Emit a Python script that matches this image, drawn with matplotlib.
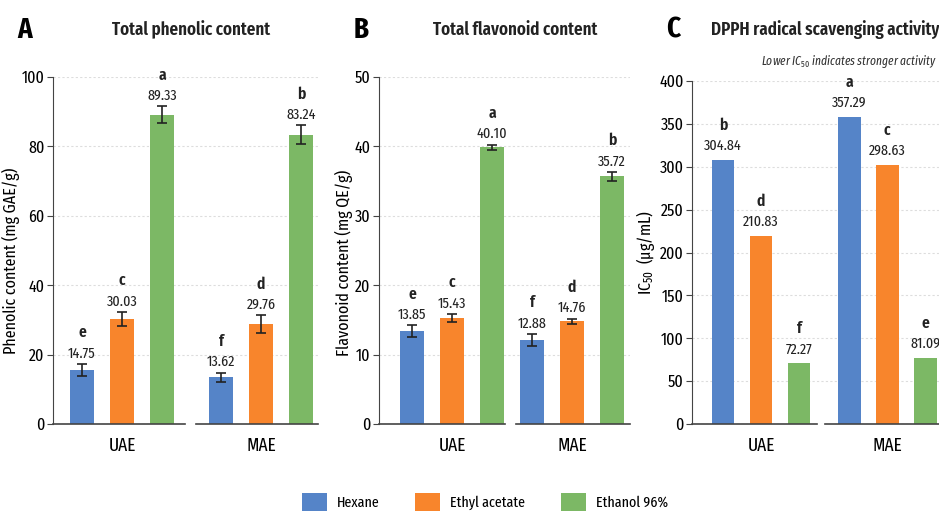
import matplotlib
matplotlib.use('Agg')

import numpy as np
import matplotlib.pyplot as plt
from matplotlib.patches import Patch
from matplotlib import font_manager

# data
groups = ['UAE', 'MAE']
solvents = ['Hexane', 'Ethyl acetate', 'Ethanol 96%']
colors = ['#5584C8', '#F8852C', '#7CB865']

# panel A - total phenolic content (UAE hexane, EA, EtOH, MAE hexane, EA, EtOH)
tpc_height = [15.6, 30.3, 89.1, 13.5, 28.8, 83.4]
tpc_err = [1.7, 2.0, 2.4, 1.3, 2.5, 2.7]
tpc_text = ['14.75', '30.03', '89.33', '13.62', '29.76', '83.24']
tpc_letter = ['e', 'c', 'a', 'f', 'd', 'b']

# panel B - total flavonoid content
tfc_height = [13.4, 15.3, 39.9, 12.1, 14.8, 35.7]
tfc_err = [0.8, 0.55, 0.35, 0.9, 0.4, 0.65]
tfc_text = ['13.85', '15.43', '40.10', '12.88', '14.76', '35.72']
tfc_letter = ['e', 'c', 'a', 'f', 'd', 'b']

# panel C - DPPH IC50
ic50_height = [307.9, 219.2, 70.8, 358.0, 302.0, 77.3]
ic50_text = ['304.84', '210.83', '72.27', '357.29', '298.63', '81.09']
ic50_letter = ['b', 'd', 'f', 'a', 'c', 'e']

# narrow font if there is one, otherwise Lato
names = set(f.name for f in font_manager.fontManager.ttflist)
cond = [n for n in ['Fira Sans Extra Condensed', 'Fira Sans Condensed', 'Roboto Condensed'] if n in names]
plt.rcParams['font.family'] = cond[:1] + ['Lato', 'DejaVu Sans']
plt.rcParams['mathtext.fontset'] = 'custom'
plt.rcParams['mathtext.rm'] = plt.rcParams['font.family'][0]
plt.rcParams['mathtext.it'] = plt.rcParams['font.family'][0] + ':italic'

W, H = 939, 514
fig = plt.figure(figsize=(W / 100, H / 100), dpi=100)


def px_axes(left, right, top, bottom):
    return fig.add_axes([left / W, 1 - bottom / H, (right - left) / W, (bottom - top) / H])


def draw_panel(ax, heights, err, texts, letters, ymax, ystep, sep, xlim, gap, ylabel, label_y, val_off, let_off):
    offs = np.array([-1, 0, 1])
    xs = np.concatenate([offs, offs + sep])
    for i, x in enumerate(xs):
        ax.bar(x, heights[i], width=0.6, color=colors[i % 3], zorder=3)
    if err is not None:
        ax.errorbar(xs, heights, yerr=err, fmt='none', ecolor='#222222',
                    elinewidth=1.2, capsize=3.5, capthick=1.2, zorder=4)
        tops = np.array(heights) + np.array(err)
    else:
        tops = np.array(heights)
    for i, x in enumerate(xs):
        ax.annotate(texts[i], xy=(x, tops[i]), xytext=(0, val_off), textcoords='offset points',
                    ha='center', va='center', fontsize=11, color='#222222')
        ax.annotate(letters[i], xy=(x, tops[i]), xytext=(0, val_off + let_off), textcoords='offset points',
                    ha='center', va='center', fontsize=12, fontweight='semibold', color='#222222')
    ax.set_ylim(0, ymax)
    ax.set_xlim(*xlim)
    ax.set_yticks(np.arange(0, ymax + 1, ystep))
    ax.yaxis.grid(True, linestyle=(0, (2, 2)), color='#dddddd', linewidth=0.8, zorder=0)
    ax.set_xticks([0, sep])
    ax.set_xticklabels(groups, fontsize=13.5)
    ax.tick_params(axis='x', length=0, pad=9)
    ax.tick_params(axis='y', labelsize=12.5, length=4, color='#444444', pad=2)
    for s in ['top', 'right', 'bottom']:
        ax.spines[s].set_visible(False)
    ax.spines['left'].set_color('#444444')
    # x axis line broken between the two groups
    ax.axhline(0, 0, gap[0], color='#444444', linewidth=1.2, clip_on=False, zorder=5)
    ax.axhline(0, gap[1], 1, color='#444444', linewidth=1.2, clip_on=False, zorder=5)
    ax.set_ylabel(ylabel, fontsize=12.5, labelpad=1.5, y=label_y)


axA = px_axes(53, 318, 77, 424)
draw_panel(axA, tpc_height, tpc_err, tpc_text, tpc_letter, 100, 20, 3.475, (-1.725, 4.9),
           (0.5, 0.54), 'Phenolic content (mg GAE/g)', 0.47, 7.5, 15)

axB = px_axes(379, 630, 77, 424)
draw_panel(axB, tfc_height, tfc_err, tfc_text, tfc_letter, 50, 10, 3.0, (-1.825, 4.45),
           (0.5, 0.545), 'Flavonoid content (mg QE/g)', 0.465, 7.5, 15)

axC = px_axes(692, 939, 81, 424)
draw_panel(axC, ic50_height, None, ic50_text, ic50_letter, 400, 50, 3.32, (-1.816, 4.68),
           (0.506, 0.538), 'IC$_{50}$  (µg/mL)', 0.5, 10, 15)

# panel letters and titles
for x, letter in [(25, 'A'), (361, 'B'), (673, 'C')]:
    fig.text(x / W, 1 - 30 / H, letter, fontsize=21, fontweight='bold', ha='center', va='center')
titles = [(191, 'Total phenolic content'), (515, 'Total flavonoid content'),
          (825, 'DPPH radical scavenging activity')]
for x, t in titles:
    fig.text(x / W, 1 - 30 / H, t, fontsize=13.3, fontweight='semibold', ha='center', va='center',
             color='#222222')
fig.text(937 / W, 1 - 62 / H, 'Lower IC$_{50}$ indicates stronger activity', fontsize=9,
         style='italic', ha='right', va='center', color='#333333')

handles = [Patch(facecolor=c, label=s) for c, s in zip(colors, solvents)]
fig.legend(handles=handles, loc='center', bbox_to_anchor=(485 / W, 1 - 502 / H), ncol=3,
           frameon=False, fontsize=11, handlelength=1.65, handleheight=1.35, columnspacing=2.3,
           handletextpad=0.65)

fig.savefig('out.png', dpi=100)
